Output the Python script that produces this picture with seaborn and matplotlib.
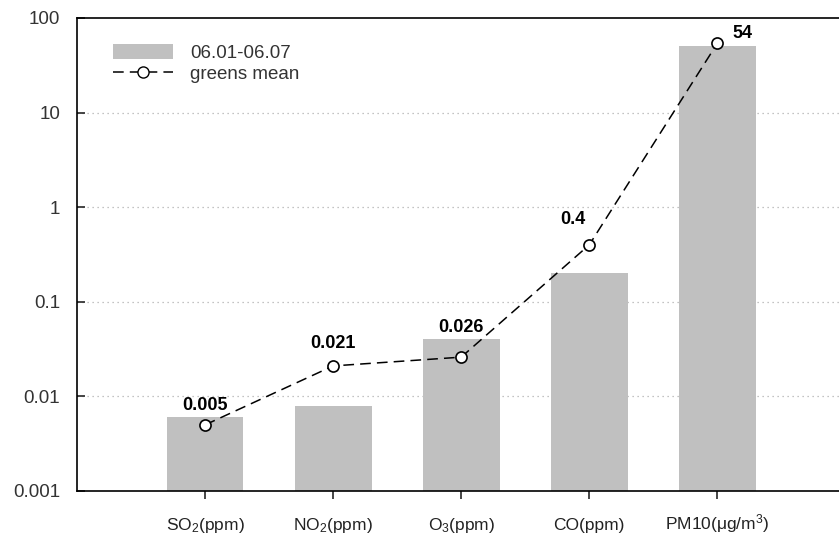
import matplotlib
matplotlib.use("Agg")
import matplotlib.pyplot as plt
from matplotlib.ticker import FixedLocator, FixedFormatter, NullLocator
from matplotlib.lines import Line2D
from matplotlib.patches import Patch
import seaborn as sns
import pandas as pd

categories = ["SO$_2$(ppm)", "NO$_2$(ppm)", "O$_3$(ppm)", "CO(ppm)", "PM10(μg/m$^3$)"]
period_values = [0.006, 0.008, 0.04, 0.2, 50]
greens_mean = [0.005, 0.021, 0.026, 0.4, 54]
mean_labels = ["0.005", "0.021", "0.026", "0.4", "54"]
y_ticks = [0.001, 0.01, 0.1, 1, 10, 100]
y_tick_labels = ["0.001", "0.01", "0.1", "1", "10", "100"]
legend_labels = ["06.01-06.07", "greens mean"]

sns.set_theme(style="white")
plt.rcParams["font.family"] = ["Liberation Sans", "DejaVu Sans"]
plt.rcParams["mathtext.default"] = "regular"

df = pd.DataFrame({"item": categories, "period": period_values, "mean": greens_mean})

fig = plt.figure(figsize=(8.39, 5.36), dpi=100)
ax = fig.add_axes([77 / 839, 45 / 536, 1 - 77 / 839, 473 / 536])

ax.set_yscale("log")
ax.set_ylim(0.001, 100)

# dotted reference lines behind the bars
for v in y_ticks[1:-1]:
    ax.axhline(v, color="#b0b0b0", linestyle=(0, (1, 3)), linewidth=0.9, zorder=0)

sns.barplot(data=df, x="item", y="period", color="#c0c0c0", width=0.6,
            saturation=1, edgecolor="none", ax=ax, zorder=2)

sns.lineplot(x=list(range(len(categories))), y=greens_mean, ax=ax, color="black",
             linewidth=1.1, marker="o", markersize=8, markerfacecolor="white",
             markeredgecolor="black", markeredgewidth=1.2, zorder=4)
ax.lines[-1].set_dashes([7, 4])

offsets = [(0, 8), (0, 10), (0, 15), (-12, 12), (18, 1)]
for i, (val, lab, off) in enumerate(zip(greens_mean, mean_labels, offsets)):
    ax.annotate(lab, (i, val), xytext=off, textcoords="offset points",
                ha="center", va="bottom", fontsize=13, fontweight="bold",
                color="black", zorder=5)

ax.set_xlim(-1, 4.95)
ax.yaxis.set_major_locator(FixedLocator(y_ticks))
ax.yaxis.set_major_formatter(FixedFormatter(y_tick_labels))
ax.yaxis.set_minor_locator(NullLocator())
ax.tick_params(axis="y", direction="in", length=6, width=1.2, left=True,
               labelsize=13.5, labelcolor="#333333", pad=12)
ax.tick_params(axis="x", direction="out", length=6, width=1.2, bottom=True,
               labelsize=12.5, labelcolor="#222222", pad=22)
for lab in ax.get_xticklabels():
    lab.set_verticalalignment("baseline")
ax.set_xlabel("")
ax.set_ylabel("")

for side in ["left", "bottom", "top"]:
    ax.spines[side].set_visible(True)
    ax.spines[side].set_color("black")
    ax.spines[side].set_linewidth(1.2)
ax.spines["right"].set_visible(False)

handles = [Patch(facecolor="#c0c0c0", edgecolor="none"),
           Line2D([0], [0], color="black", linewidth=1.1, dashes=[7, 4], marker="o",
                  markersize=8, markerfacecolor="white", markeredgecolor="black")]
ax.legend(handles, legend_labels, loc="upper left", bbox_to_anchor=(0.025, 0.98),
          frameon=False, fontsize=13.5, handlelength=3.2, handleheight=0.8,
          labelspacing=0.15, handletextpad=0.9, labelcolor="#333333")

fig.savefig("out.png", dpi=100)
